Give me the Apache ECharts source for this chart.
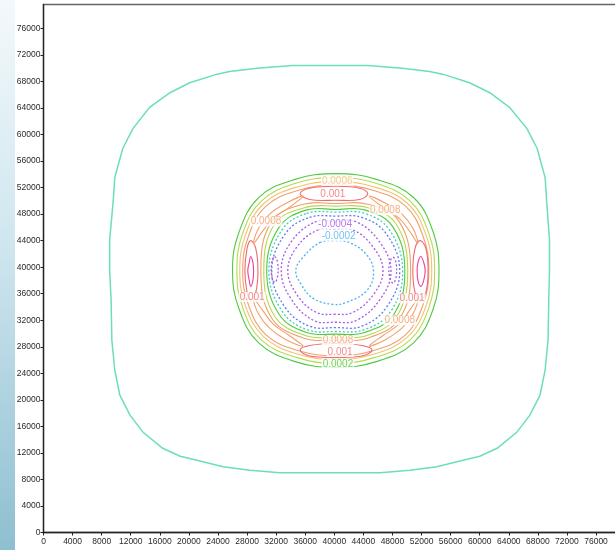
<!DOCTYPE html>
<html>
<head>
<meta charset="utf-8">
<script src="https://cdn.jsdelivr.net/npm/echarts@6/dist/echarts.min.js"></script>
<style>
  html, body { margin: 0; padding: 0; background: #fff; }
  #chart { width: 615px; height: 550px; }
</style>
</head>
<body>
<div id="chart"></div>
<script>
// Axis ticks
const xTicks = [0, 4000, 8000, 12000, 16000, 20000, 24000, 28000, 32000, 36000, 40000,
  44000, 48000, 52000, 56000, 60000, 64000, 68000, 72000, 76000];
const yTicks = [0, 4000, 8000, 12000, 16000, 20000, 24000, 28000, 32000, 36000, 40000,
  44000, 48000, 52000, 56000, 60000, 64000, 68000, 72000, 76000];

// Contour levels
const levels = {
  far: 0,
  p0002: 0.0002,
  p0004: 0.0004,
  p0006: 0.0006,
  p0008: 0.0008,
  p0010: 0.001,
  p0012: 0.0012,
  zero: 0,
  m0002: -0.0002,
  m0004: -0.0004,
  m0006: -0.0006
};

// Closed contour loops, [x, y] in data units
const farRing = [[39400,70400],[44600,70400],[49400,70000],[53100,69500],[54900,69100],[58600,67800],
  [61400,66300],[64100,64100],[66500,60900],[67900,57900],[69000,53500],[69200,50100],[69600,44100],
  [69600,39500],[69500,35000],[69400,29000],[69000,24500],[68300,20700],[66900,17700],[65100,15100],
  [62400,12700],[60000,11500],[57700,10900],[54100,9900],[50400,9400],[46300,9000],[39400,9000],
  [32500,9000],[28400,9400],[24700,9900],[21100,10900],[18800,11500],[16400,12700],[13700,15100],
  [11900,17700],[10500,20700],[9800,24500],[9400,29000],[9300,35000],[9100,39500],[9100,44100],
  [9600,50100],[9800,53500],[10900,57900],[12300,60900],[14600,64100],[17400,66300],[20100,67800],
  [23900,69100],[25600,69500],[29400,70000],[34200,70400]];

const outer0002 = [[40200,54100],[45900,53200],[50900,50500],[53600,45300],[54400,39500],[53600,33700],
  [50900,28600],[45900,25800],[40200,24900],[34500,25800],[29600,28600],[26900,33700],[26000,39500],
  [26900,45300],[29600,50500],[34500,53200]];
const outer0004 = [[40200,53500],[45600,52700],[50400,50000],[53000,45100],[53800,39500],[53000,33900],
  [50400,29000],[45600,26400],[40200,25500],[34800,26400],[30000,29000],[27400,33900],[26600,39500],
  [27400,45100],[30000,50000],[34800,52700]];
const outer0006 = [[40200,52900],[45500,52100],[50100,49600],[52600,44900],[53400,39500],[52600,34100],
  [50100,29500],[45500,26900],[40200,26100],[34900,26900],[30300,29500],[27800,34100],[27000,39500],
  [27800,44900],[30300,49600],[34900,52100]];
const outer0008 = [[40200,52400],[45300,51600],[49800,49200],[52200,44700],[53000,39500],[52200,34300],
  [49800,29800],[45300,27400],[40200,26600],[35100,27400],[30600,29800],[28200,34300],[27400,39500],
  [28200,44700],[30600,49200],[35100,51600]];

const peakTop = [[35300,51100],[36600,51900],[40200,52200],[43500,51900],[44600,51100],[43500,50200],[40200,50100],[36600,50200]];
const peakBottom = [[35300,27500],[36600,28200],[40200,28500],[43800,28200],[45200,27500],[43800,26600],[40200,26400],[36600,26600]];
const peakLeft = [[28500,44000],[29200,42800],[29500,39500],[29200,36200],[28500,35000],[28000,36200],[27700,39500],[28000,42800]];
const peakRight = [[51800,44000],[52600,42800],[52900,39500],[52600,36200],[51800,35000],[51100,36200],[50800,39500],[51100,42800]];
const coreLeft = [[28500,41600],[28800,40700],[28900,39500],[28800,38000],[28500,37100],[28300,38000],[28100,39500],[28300,40700]];
const coreRight = [[51900,41600],[52300,40700],[52500,39500],[52300,38000],[51900,37100],[51500,38000],[51400,39500],[51500,40700]];

const spurNW = [[28900,43600],[29600,45900],[31100,48000],[33300,49600],[35700,50700],[33800,49000],[31600,47400],[30200,45500]];
const spurNE = [[51500,43600],[50800,45900],[49300,48000],[47100,49600],[44800,50700],[46700,49000],[48900,47400],[50300,45500]];
const spurSW = [[28900,35200],[29600,32900],[31100,30800],[33300,29100],[35700,28100],[33800,29700],[31600,31400],[30200,33400]];
const spurSE = [[51500,35200],[50800,32900],[49300,30800],[47100,29100],[44800,28100],[46700,29700],[48900,31400],[50300,33400]];

const inner0008 = [[35800,49500],[40200,49600],[44600,49500],[48900,46900],[50500,39500],[49000,32300],
  [44600,29300],[40200,29000],[35800,29300],[31400,32300],[29900,39500],[31400,46900]];
const inner0004 = [[36000,49000],[40200,49200],[44500,49000],[48500,46500],[50100,39500],[48600,32600],
  [44500,29700],[40200,29400],[36000,29700],[31800,32600],[30300,39500],[31800,46500]];
const inner0002 = [[36100,48600],[40200,48700],[44300,48600],[48100,46000],[49700,39500],[48200,32900],
  [44300,30200],[40200,29900],[36100,30200],[32400,32900],[30700,39500],[32400,46000]];
const innerZero = [[36200,48100],[40200,48300],[44200,48100],[47600,45600],[49400,39500],[47800,33400],
  [44200,30600],[40200,30300],[36200,30600],[32800,33400],[31000,39500],[32800,45600]];
const innerM0002 = [[36600,47500],[40200,47700],[43800,47500],[47100,45100],[49000,39500],[47200,34000],
  [43800,31100],[40200,30900],[36600,31100],[33200,34000],[31400,39500],[33300,45100]];
const innerM0004a = [[37300,46800],[40100,46900],[43100,46800],[46300,43700],[47800,39500],[46400,35300],
  [43100,32000],[40100,31700],[37100,32000],[34000,35300],[32700,39500],[34000,43700]];
const innerM0004b = [[37700,45600],[40100,45700],[42600,45600],[45300,43100],[46700,39500],[45400,35900],
  [42600,33200],[40100,32900],[37500,33200],[34900,35800],[33600,39500],[34900,43100]];
const hollow = [[38000,43700],[39800,44000],[42100,43700],[44500,41800],[45400,39200],[44500,36500],
  [41700,34700],[39700,34400],[37100,35300],[35500,37300],[34700,39500],[35700,41500]];
const pocketLeft = [[31800,41600],[32200,40700],[32200,38600],[31800,37700],[31400,38600],[31400,40700]];
const pocketRight = [[48100,41500],[48500,40600],[48500,38500],[48100,37600],[47600,38500],[47600,40600]];

// Line styles by role
const C = {
  far: '#6ddfb4', green: '#4fcb3f', yg: '#b5d94f', tan: '#f1c377', orange: '#f2a06c',
  red: '#f06a70', magenta: '#e6429c', teal: '#48cdb8', blue: '#6578ee', purple: '#a65ae6', cyan: '#4db0f0'
};

const loops = [
  { pts: farRing, level: levels.far, color: C.far, width: 1.5, smooth: 0 },
  { pts: outer0002, level: levels.p0002, color: C.green },
  { pts: outer0004, level: levels.p0004, color: C.yg },
  { pts: outer0006, level: levels.p0006, color: C.tan },
  { pts: outer0008, level: levels.p0008, color: C.orange },
  { pts: peakTop, level: levels.p0010, color: C.red },
  { pts: peakBottom, level: levels.p0010, color: C.red },
  { pts: peakLeft, level: levels.p0010, color: C.red },
  { pts: peakRight, level: levels.p0010, color: C.red },
  { pts: coreLeft, level: levels.p0012, color: C.magenta },
  { pts: coreRight, level: levels.p0012, color: C.magenta },
  { pts: spurNW, level: levels.p0008, color: C.orange },
  { pts: spurNE, level: levels.p0008, color: C.orange },
  { pts: spurSW, level: levels.p0008, color: C.orange },
  { pts: spurSE, level: levels.p0008, color: C.orange },
  { pts: inner0008, level: levels.p0008, color: C.orange },
  { pts: inner0004, level: levels.p0004, color: C.yg },
  { pts: inner0002, level: levels.p0002, color: C.green },
  { pts: innerZero, level: levels.zero, color: C.teal, dash: true },
  { pts: innerM0002, level: levels.m0002, color: C.blue, dash: true },
  { pts: innerM0004a, level: levels.m0004, color: C.purple, dash: true },
  { pts: innerM0004b, level: levels.m0004, color: C.purple, dash: true },
  { pts: hollow, level: levels.m0002, color: C.cyan, dash: true },
  { pts: pocketLeft, level: levels.m0006, color: C.purple, dash: true },
  { pts: pocketRight, level: levels.m0006, color: C.purple, dash: true }
];

// Level labels: anchor in data units + the loop whose level is printed
const tags = [
  { at: [40400, 53000], loop: loops[3] },
  { at: [39800, 51000], loop: loops[5] },
  { at: [30600, 46900], loop: loops[11] },
  { at: [47000, 48600], loop: loops[12] },
  { at: [40100, 46400], loop: loops[20] },
  { at: [40600, 44700], loop: loops[22] },
  { at: [28700, 35500], loop: loops[7] },
  { at: [50700, 35300], loop: loops[8] },
  { at: [49000, 32000], loop: loops[14] },
  { at: [40500, 29000], loop: loops[15] },
  { at: [40800, 27200], loop: loops[6] },
  { at: [40500, 25400], loop: loops[1] }
];

const chart = echarts.init(document.getElementById('chart'), null, { renderer: 'canvas' });
const axisFont = { fontFamily: 'Liberation Sans, Arial, sans-serif', fontSize: 8.5, color: '#2a2a2a' };

chart.setOption({
  animation: false,
  backgroundColor: '#fff',
  grid: {
    left: 43.5, top: 4.5, width: 581.6, height: 528,
    show: true, borderColor: '#666', borderWidth: 1.4, backgroundColor: 'transparent',
    containLabel: false, outerBoundsMode: 'none'
  },
  xAxis: {
    type: 'value', min: 0, max: 80000, interval: 4000,
    axisLine: { show: true, onZero: false, lineStyle: { color: '#222', width: 1.3 } },
    axisTick: { show: true, length: 3, customValues: xTicks, lineStyle: { color: '#222' } },
    axisLabel: { ...axisFont, margin: 5, customValues: xTicks, formatter: v => String(v) },
    splitLine: { show: false }
  },
  yAxis: {
    type: 'value', min: 0, max: 79600, interval: 4000,
    axisLine: { show: true, onZero: false, lineStyle: { color: '#222', width: 1.3 } },
    axisTick: { show: true, length: 3, customValues: yTicks, lineStyle: { color: '#222' } },
    axisLabel: { ...axisFont, margin: 3, customValues: yTicks, formatter: v => String(v) },
    splitLine: { show: false }
  },
  series: [
    {
      type: 'custom',
      coordinateSystem: 'cartesian2d',
      silent: true,
      data: loops.map((l, i) => [l.pts[0][0], l.pts[0][1], i]),
      renderItem(params, api) {
        const l = loops[params.dataIndex];
        return {
          type: 'polygon',
          shape: { points: l.pts.map(p => api.coord(p)), smooth: l.smooth === undefined ? 0.4 : l.smooth },
          style: {
            fill: 'none', stroke: l.color, lineWidth: l.width || (l.dash ? 1.3 : 1.1),
            lineDash: l.dash ? [2, 2] : null
          }
        };
      }
    },
    {
      type: 'scatter',
      silent: true,
      symbolSize: 0,
      z: 5,
      data: tags.map(t => ({
        value: [t.at[0], t.at[1], t.loop.level],
        label: { color: t.loop.color }
      })),
      label: {
        show: true, position: 'inside',
        fontFamily: 'Liberation Sans, Arial, sans-serif', fontSize: 10,
        backgroundColor: '#fff', padding: [0, 1],
        formatter: p => String(p.value[2])
      }
    }
  ],
  graphic: [{
    type: 'rect', left: 0, top: 0, z: 100, silent: true,
    shape: { width: 15, height: 550 },
    style: {
      fill: new echarts.graphic.LinearGradient(0, 0, 0, 1, [
        { offset: 0, color: '#f3f9fc' },
        { offset: 0.45, color: '#cfe6ee' },
        { offset: 1, color: '#8ebfd1' }
      ])
    }
  }]
});
</script>
</body>
</html>
